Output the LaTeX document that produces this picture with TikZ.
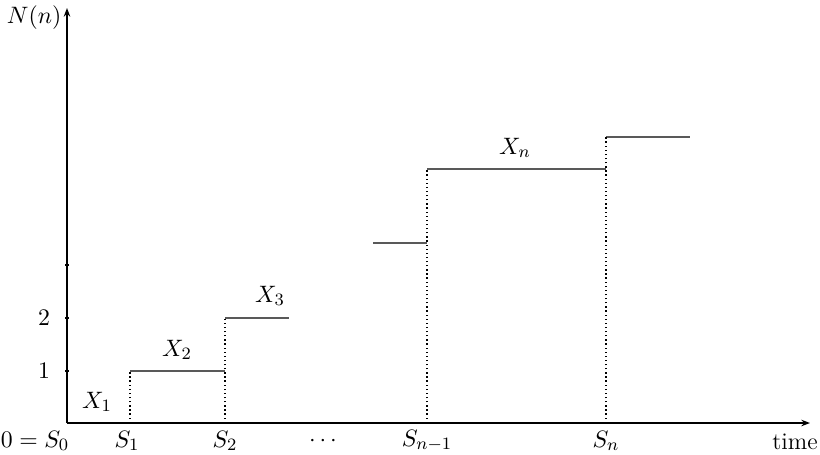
\documentclass[tikz,border=0pt]{standalone}
\usepackage{amsmath}
\usetikzlibrary{arrows.meta}

\tikzset{
  axis/.style={thick,-{Stealth[length=4pt,width=3pt]}},
  jump/.style={thick,dash pattern=on 0.6pt off 1.3pt},
  level/.style={gray!70!black,semithick},
  lab/.style={inner sep=1pt,font=\fontsize{11}{13}\selectfont}
}

\begin{document}
\begin{tikzpicture}[x=0.0162cm,y=-0.0162cm]
  \useasboundingbox (0,0) rectangle (820,455);
  % axes
  \coordinate (o) at (67,423);
  \coordinate (ytop) at (67,8);
  \coordinate (xend) at (810,423);
  \draw[axis] (o) -- (ytop);
  \draw[axis] (o) -- (xend);
  \node[lab,anchor=east] (nn) at (64,18) {$N(n)$};
  \node[lab,anchor=south] (tm) at (795,452) {time};
  % ticks on the vertical axis
  \foreach \y in {371,318,265}
    \draw[thick] (65,\y) -- (69,\y);
  \node[lab] (one) at (44,371) {$1$};
  \node[lab] (two) at (44,318) {$2$};
  % jump times
  \coordinate (s1) at (130,423);
  \coordinate (s2) at (225,423);
  \coordinate (sn1) at (427,423);
  \coordinate (sn) at (606,423);
  \node[lab] (ls0) at (35,441) {$0=S_0$};
  \node[lab] (ls1) at (127,441) {$S_1$};
  \node[lab] (ls2) at (225,441) {$S_2$};
  \node[lab] (dots) at (325,441) {$\cdots$};
  \node[lab] (lsn1) at (427,441) {$S_{n-1}$};
  \node[lab] (lsn) at (606,441) {$S_n$};
  % levels of the counting process
  \coordinate (a1) at (130,371);
  \coordinate (a2) at (225,371);
  \coordinate (b1) at (225,318);
  \coordinate (b2) at (289,318);
  \coordinate (c1) at (373,243);
  \coordinate (c2) at (427,243);
  \coordinate (d1) at (427,169);
  \coordinate (d2) at (606,169);
  \coordinate (e1) at (606,137);
  \coordinate (e2) at (690,137);
  \draw[level] (a1) -- (a2);
  \draw[level] (b1) -- (b2);
  \draw[level] (c1) -- (c2);
  \draw[level] (d1) -- (d2);
  \draw[level] (e1) -- (e2);
  \draw[jump] (s1) -- (a1);
  \draw[jump] (s2) -- (b1);
  \draw[jump] (sn1) -- (d1);
  \draw[jump] (sn) -- (e1);
  % interarrival times
  \node[lab] (x1) at (97,402) {$X_1$};
  \node[lab] (x2) at (177,350) {$X_2$};
  \node[lab] (x3) at (270,296) {$X_3$};
  \node[lab] (xn) at (515,148) {$X_n$};
\end{tikzpicture}
\end{document}
